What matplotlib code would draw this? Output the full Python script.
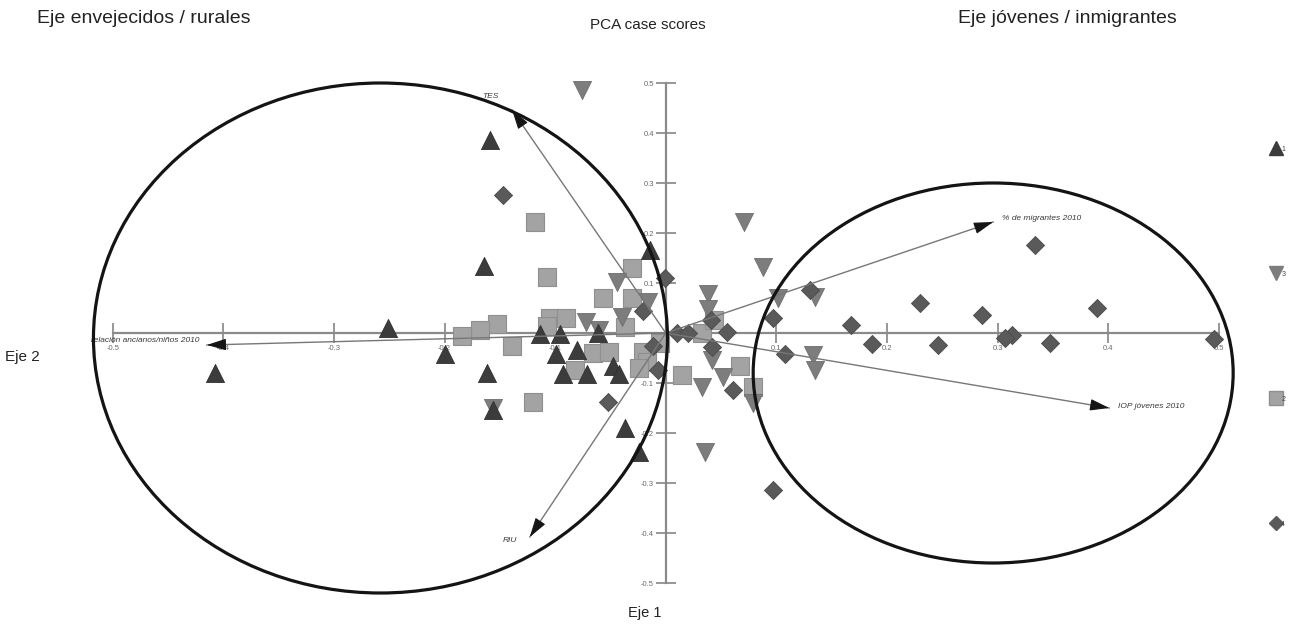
import matplotlib
matplotlib.use('Agg')
import matplotlib.pyplot as plt
from matplotlib.patches import Ellipse
from matplotlib.lines import Line2D

plt.rcParams['font.family'] = ['Liberation Sans', 'DejaVu Sans']

# ---- data: PCA case scores (Eje 1 = horizontal, Eje 2 = vertical) ----
grupo1_x = [-0.159, -0.164, -0.251, -0.200, -0.408, -0.162, -0.156, -0.114, -0.096, -0.099,
            -0.080, -0.061, -0.048, -0.093, -0.071, -0.042, -0.037, -0.024, -0.014]
grupo1_y = [0.386, 0.134, 0.010, -0.042, -0.080, -0.080, -0.154, -0.002, -0.002, -0.042,
            -0.034, 0.000, -0.066, -0.082, -0.082, -0.082, -0.190, -0.238, 0.166]

grupo3_x = [-0.076, -0.044, -0.016, 0.071, 0.088, 0.038, 0.038, 0.101, 0.135, 0.042,
            0.033, 0.052, 0.079, 0.035, -0.156, -0.072, -0.060, 0.133, 0.135, -0.040]
grupo3_y = [0.486, 0.102, 0.062, 0.222, 0.132, 0.078, 0.048, 0.070, 0.072, -0.054,
            -0.108, -0.088, -0.140, -0.238, -0.150, 0.022, 0.006, -0.044, -0.074, 0.032]

grupo2_x = [-0.118, -0.107, -0.031, -0.057, -0.031, -0.105, -0.090, -0.107, -0.153, -0.168,
            -0.184, -0.139, -0.037, -0.066, -0.051, -0.082, -0.120, -0.021, -0.017, -0.024,
            0.015, 0.033, 0.067, 0.079, 0.044, -0.005]
grupo2_y = [0.222, 0.112, 0.130, 0.070, 0.070, 0.030, 0.030, 0.014, 0.018, 0.006,
            -0.006, -0.026, 0.012, -0.040, -0.038, -0.074, -0.138, -0.038, -0.058, -0.070,
            -0.084, 0.000, -0.066, -0.108, 0.026, -0.020]

grupo4_x = [-0.147, -0.052, 0.097, -0.001, -0.021, -0.012, -0.007, 0.010, 0.020, 0.041,
            0.055, 0.042, 0.061, 0.097, 0.108, 0.130, 0.167, 0.186, 0.230, 0.246,
            0.286, 0.313, 0.307, 0.347, 0.390, 0.496, 0.334]
grupo4_y = [0.276, -0.138, -0.314, 0.110, 0.044, -0.026, -0.074, 0.000, 0.000, 0.026,
            0.002, -0.028, -0.114, 0.030, -0.042, 0.086, 0.016, -0.022, 0.060, -0.024,
            0.036, -0.004, -0.010, -0.020, 0.050, -0.012, 0.176]

# loading vectors
vec_names = ['TES', 'RIU', 'relación ancianos/niños 2010', '% de migrantes 2010', 'IOP jóvenes 2010']
vec_x = [-0.139, -0.123, -0.415, 0.296, 0.401]
vec_y = [0.446, -0.408, -0.024, 0.222, -0.150]

# axis ticks
tick_vals = [-0.5, -0.4, -0.3, -0.2, -0.1, 0.1, 0.2, 0.3, 0.4, 0.5]
tick_labels = ['-0.5', '-0.4', '-0.3', '-0.2', '-0.1', '0.1', '0.2', '0.3', '0.4', '0.5']

legend_labels = ['1', '3', '2', '4']

# ---- figure ----
fig = plt.figure(figsize=(12.94, 6.29), dpi=100)
ax = fig.add_axes([0, 0, 1, 1])
ax.set_xlim(-0.602, 0.568)
ax.set_ylim(-0.592, 0.666)

axis_col = '#8a8a8a'
for s in ['top', 'right']:
    ax.spines[s].set_visible(False)
for s in ['left', 'bottom']:
    ax.spines[s].set_position(('data', 0))
    ax.spines[s].set_bounds(-0.5, 0.5)
    ax.spines[s].set_color(axis_col)
    ax.spines[s].set_linewidth(1.6)

ax.set_xticks(tick_vals)
ax.set_xticklabels(tick_labels)
ax.set_yticks(tick_vals)
ax.set_yticklabels(tick_labels)
ax.tick_params(axis='both', direction='inout', length=15, width=1.1, color='#7a7a7a',
               labelsize=5.5, labelcolor='#6a6a6a', pad=1)

c1, c2, c3, c4 = '#3c3c3c', '#a3a3a3', '#7d7d7d', '#5a5a5a'
ax.scatter(grupo2_x, grupo2_y, marker='s', s=160, c=c2, edgecolors='#8f8f8f', linewidths=0.8, zorder=4)
ax.scatter(grupo3_x, grupo3_y, marker='v', s=170, c=c3, edgecolors='#6f6f6f', linewidths=0.6, zorder=4)
ax.scatter(grupo1_x, grupo1_y, marker='^', s=170, c=c1, edgecolors='#303030', linewidths=0.6, zorder=4)
ax.scatter(grupo4_x, grupo4_y, marker='D', s=85, c=c4, edgecolors='#4a4a4a', linewidths=0.6, zorder=4)

# loading vectors
label_off = {
    'TES': (-0.027, 0.026, 'left'),
    'RIU': (-0.024, -0.008, 'left'),
    'relación ancianos/niños 2010': (-0.007, 0.008, 'right'),
    '% de migrantes 2010': (0.008, 0.008, 'left'),
    'IOP jóvenes 2010': (0.008, 0.002, 'left'),
}
for name, vx, vy in zip(vec_names, vec_x, vec_y):
    ax.plot([0, vx], [0, vy], color='#777777', lw=1.0, zorder=5)
    ax.annotate('', xy=(vx, vy), xytext=(vx * 0.96, vy * 0.96),
                arrowprops=dict(arrowstyle='-|>,head_length=1.0,head_width=0.3',
                                color='#151515', lw=0.8, mutation_scale=12,
                                shrinkA=0, shrinkB=0), zorder=6)
    dx, dy, ha = label_off[name]
    ax.text(vx + dx, vy + dy, name, fontsize=6, style='italic', color='#3a3a3a',
            ha=ha, va='center', zorder=6)

# grouping ellipses
ax.add_patch(Ellipse((-0.258, -0.010), 0.519, 1.02, fill=False, ec='#141414', lw=2.3, zorder=7))
ax.add_patch(Ellipse((0.296, -0.080), 0.434, 0.76, fill=False, ec='#141414', lw=2.3, zorder=7))

# legend
handles = [Line2D([], [], ls='', marker='^', color=c1, markersize=10.5),
           Line2D([], [], ls='', marker='v', color=c3, markersize=10.5),
           Line2D([], [], ls='', marker='s', color=c2, markeredgecolor='#8f8f8f', markersize=10),
           Line2D([], [], ls='', marker='D', color=c4, markersize=7)]
ax.legend(handles, legend_labels, loc='upper left', bbox_to_anchor=(0.9805, 0.774),
          frameon=False, fontsize=5, labelspacing=17.0, handlelength=1.2,
          handletextpad=0.1, borderpad=0, labelcolor='#444444')

# titles
fig.text(0.0286, 0.971, 'Eje envejecidos / rurales', fontsize=14, ha='left', va='center', color='#222222')
fig.text(0.501, 0.960, 'PCA case scores', fontsize=11, ha='center', va='center', color='#222222')
fig.text(0.8246, 0.971, 'Eje jóvenes / inmigrantes', fontsize=14, ha='center', va='center', color='#222222')
fig.text(0.004, 0.432, 'Eje 2', fontsize=11, ha='left', va='center', color='#222222')
fig.text(0.498, 0.0255, 'Eje 1', fontsize=10.5, ha='center', va='center', color='#222222')

fig.savefig('out.png', dpi=100)
